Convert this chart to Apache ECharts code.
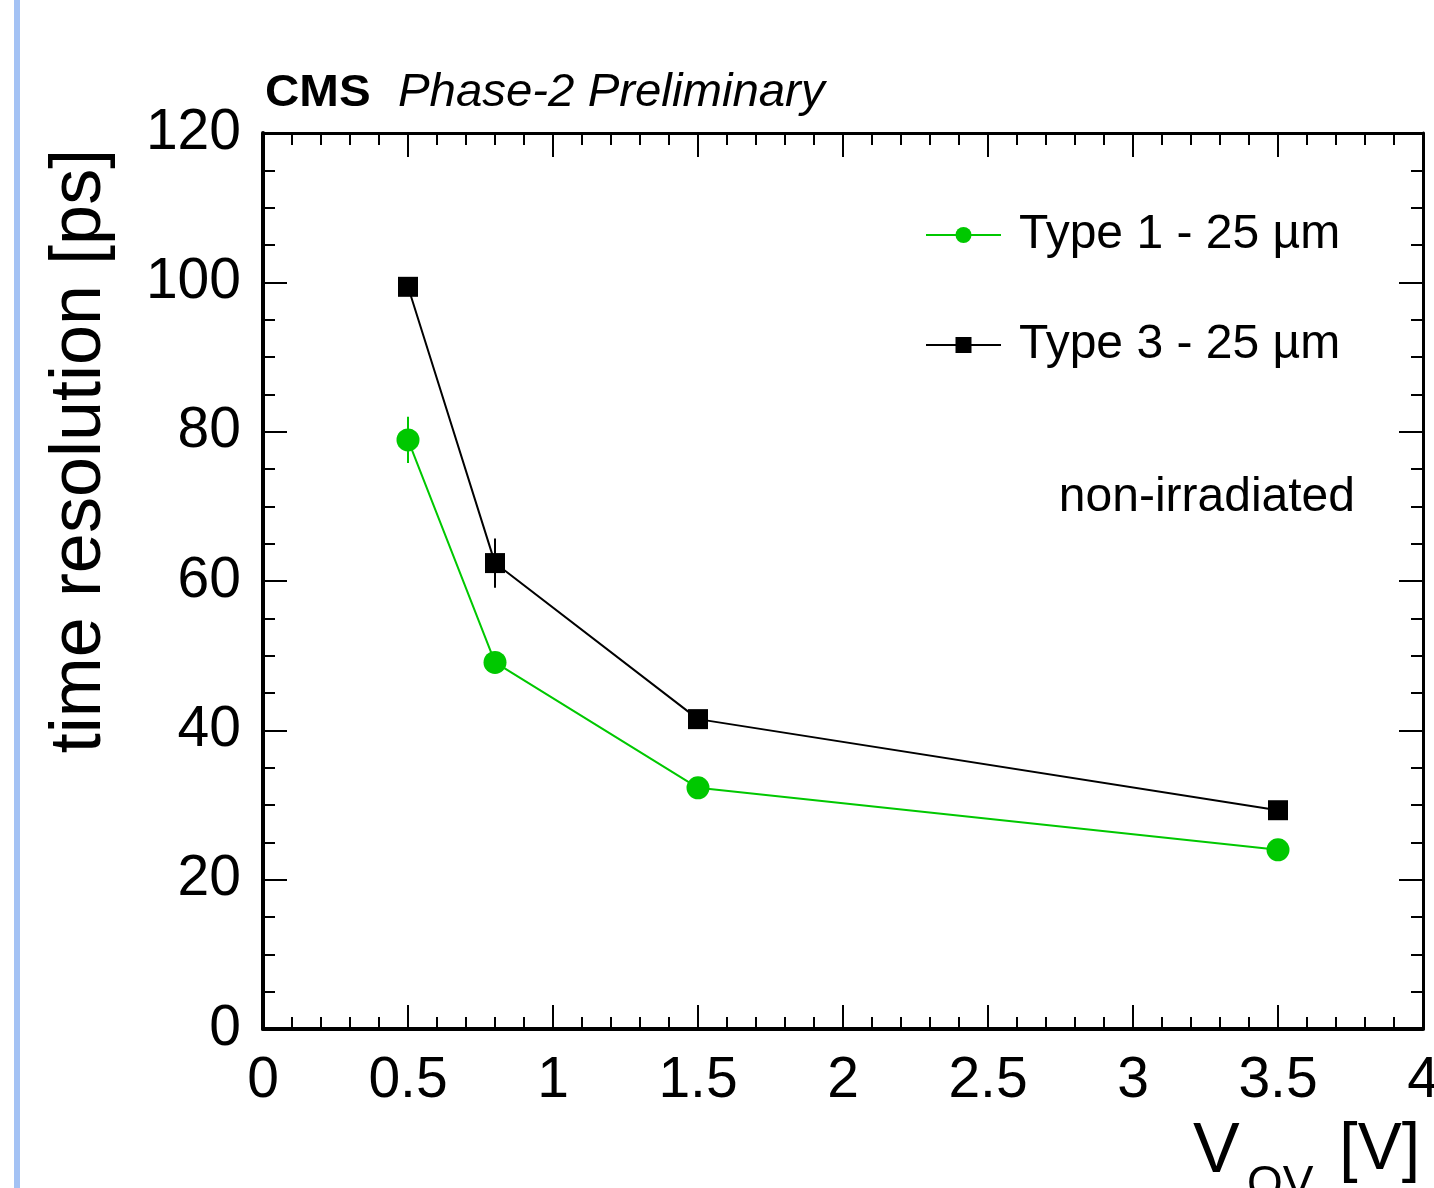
<!DOCTYPE html>
<html>
<head>
<meta charset="utf-8">
<script src="https://cdn.jsdelivr.net/npm/echarts@6/dist/echarts.min.js"></script>
<style>
html,body{margin:0;padding:0;background:#fff;}
#chart{width:1434px;height:1188px;}
</style>
</head>
<body>
<div id="chart"></div>
<script>
// ---- data ----
const xValues = [0.5, 0.8, 1.5, 3.5];
const type1Values = [78.9, 49.1, 32.3, 24.0];
const type1Errors = [3.1, 1.0, 0.8, 0.7];
const type3Values = [99.4, 62.4, 41.5, 29.3];
const type3Errors = [1.0, 3.3, 1.0, 0.8];
const seriesNames = ['Type 1 - 25 \u00b5m', 'Type 3 - 25 \u00b5m'];
const xTickLabels = ['0', '0.5', '1', '1.5', '2', '2.5', '3', '3.5', '4'];
const yTickLabels = ['0', '20', '40', '60', '80', '100', '120'];

const FONT = '"Liberation Sans", Arial, Helvetica, sans-serif';
const GREEN = '#00c800';
const BLACK = '#000000';

function pts(vals) { return xValues.map((x, i) => [x, vals[i]]); }
function errs(vals, e) { return xValues.map((x, i) => [x, vals[i] - e[i], vals[i] + e[i]]); }

function errRender(color) {
  return function (params, api) {
    const p1 = api.coord([api.value(0), api.value(1)]);
    const p2 = api.coord([api.value(0), api.value(2)]);
    return {
      type: 'line',
      shape: { x1: p1[0], y1: p1[1], x2: p2[0], y2: p2[1] },
      style: { stroke: color, lineWidth: 2 }
    };
  };
}

const tickStyle = { color: '#000', width: 2 };
function xAxisCfg(pos, labels) {
  return {
    type: 'value', position: pos, min: 0, max: 4, interval: 0.5,
    axisLine: { show: true, onZero: false, lineStyle: { color: '#000', width: pos === 'bottom' ? 4 : 3 } },
    axisTick: { show: true, inside: true, length: 24, lineStyle: tickStyle },
    minorTick: { show: true, splitNumber: 5, length: 12, lineStyle: tickStyle },
    splitLine: { show: false },
    axisLabel: {
      show: labels, margin: 24, fontSize: 57, color: '#000', fontFamily: FONT,
      showMinLabel: true, showMaxLabel: true,
      formatter: v => xTickLabels[Math.round(v / 0.5)]
    }
  };
}
function yAxisCfg(pos, labels) {
  return {
    type: 'value', position: pos, min: 0, max: 120, interval: 20,
    axisLine: { show: true, onZero: false, lineStyle: { color: '#000', width: pos === 'left' ? 4 : 3 } },
    axisTick: { show: true, inside: true, length: 24, lineStyle: tickStyle },
    minorTick: { show: true, splitNumber: 4, length: 12, lineStyle: tickStyle },
    splitLine: { show: false },
    axisLabel: {
      show: labels, margin: 22, fontSize: 57, color: '#000', fontFamily: FONT,
      showMinLabel: true, showMaxLabel: true,
      formatter: v => yTickLabels[Math.round(v / 20)]
    }
  };
}

const chart = echarts.init(document.getElementById('chart'), null, { renderer: 'canvas' });
chart.setOption({
  backgroundColor: '#ffffff',
  animation: false,
  textStyle: { fontFamily: FONT },
  grid: { left: 263, right: 11, top: 133, bottom: 159, containLabel: false, outerBoundsMode: 'none' },
  xAxis: [xAxisCfg('bottom', true), xAxisCfg('top', false)],
  yAxis: [yAxisCfg('left', true), yAxisCfg('right', false)],
  legend: {
    orient: 'vertical', left: 925, top: 207, padding: 0,
    itemWidth: 75, itemHeight: 20, itemGap: 54,
    data: seriesNames,
    textStyle: { fontSize: 48, color: '#000', fontFamily: FONT, lineHeight: 56, padding: [0, 0, 0, 13] }
  },
  series: [
    {
      type: 'custom', name: 'err1', xAxisIndex: 0, yAxisIndex: 0,
      renderItem: errRender(GREEN), data: errs(type1Values, type1Errors), z: 2, silent: true
    },
    {
      type: 'custom', name: 'err3', xAxisIndex: 0, yAxisIndex: 0,
      renderItem: errRender(BLACK), data: errs(type3Values, type3Errors), z: 2, silent: true
    },
    {
      type: 'line', name: seriesNames[0], data: pts(type1Values), z: 3,
      symbol: 'circle', symbolSize: 23, showAllSymbol: true,
      lineStyle: { color: GREEN, width: 2 }, itemStyle: { color: GREEN }
    },
    {
      type: 'line', name: seriesNames[1], data: pts(type3Values), z: 4,
      symbol: 'rect', symbolSize: 20, showAllSymbol: true,
      lineStyle: { color: BLACK, width: 2 }, itemStyle: { color: BLACK }
    }
  ],
  graphic: [
    { type: 'rect', left: 14, top: 0, shape: { width: 6, height: 1188 }, style: { fill: '#a4c2f4' }, silent: true },
    { type: 'text', x: 265, y: 72, scaleX: 1.08,
      style: { text: 'CMS', font: 'bold 44px ' + FONT, fill: '#000', textAlign: 'left', textVerticalAlign: 'top' } },
    { type: 'text', x: 398, y: 70, scaleX: 1.03,
      style: { text: 'Phase-2 Preliminary', font: 'italic 46px ' + FONT, fill: '#000', textAlign: 'left', textVerticalAlign: 'top' } },
    { type: 'text', x: 1355, y: 498,
      style: { text: 'non-irradiated', font: '48px ' + FONT, fill: '#000', textAlign: 'right', textVerticalAlign: 'middle' } },
    { type: 'text', x: 80, y: 451, rotation: Math.PI / 2,
      style: { text: 'time resolution [ps]', font: '72px ' + FONT, fill: '#000', textAlign: 'center', textVerticalAlign: 'middle' } },
    { type: 'text', x: 1193, y: 1118,
      style: { text: 'V', font: '70px ' + FONT, fill: '#000', textAlign: 'left', textVerticalAlign: 'top' } },
    { type: 'text', x: 1247, y: 1162,
      style: { text: 'OV', font: '46px ' + FONT, fill: '#000', textAlign: 'left', textVerticalAlign: 'top' } },
    { type: 'text', x: 1420, y: 1118,
      style: { text: '[V]', font: '66px ' + FONT, fill: '#000', textAlign: 'right', textVerticalAlign: 'top' } }
  ]
});
</script>
</body>
</html>
